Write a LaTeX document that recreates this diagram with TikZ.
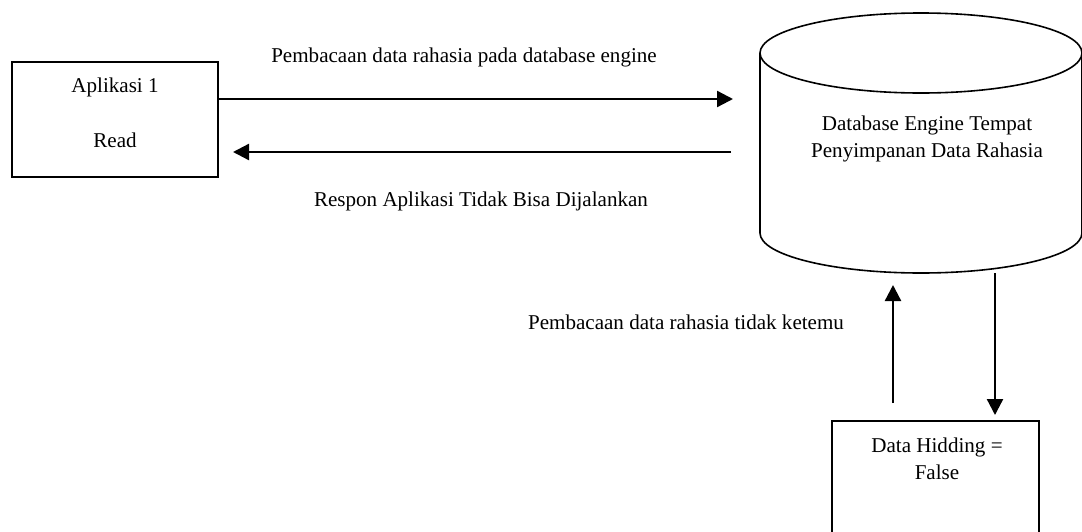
\documentclass[tikz,border=0pt]{standalone}
\usepackage{fontspec}
\setmainfont{Liberation Serif}
\usetikzlibrary{arrows.meta}
\tikzset{
  px/.style={x=0.75pt,y=-0.75pt},
  boxshape/.style={draw,line width=1.2pt,inner sep=0pt},
  lbl/.style={inner sep=0pt,font=\fontsize{15.8pt}{20.25pt}\selectfont,align=center},
  flow/.style={line width=1.75pt,-{Triangle[length=12pt,width=12pt]}},
  cyl/.style={line width=1.2pt}
}
\begin{document}
\begin{tikzpicture}[px]
\useasboundingbox (0,0) rectangle (1082,532);
% Aplikasi box
\node[boxshape,minimum width=154.5pt,minimum height=86.25pt] (app) at (115,119.5) {};
\node[lbl] (appt1) at (115,87) {Aplikasi 1};
\node[lbl] (appt2) at (115,140) {Read};
% Database cylinder
\draw[cyl] (921,53) ellipse [x radius=120.75pt, y radius=30pt];
\draw[cyl] (760,53) -- (760,233) arc[start angle=180,end angle=360,x radius=120.75pt,y radius=30pt] -- (1082,53);
\node[lbl] (db) at (927,138.5) {Database Engine Tempat\\Penyimpanan Data Rahasia};
% Data hidding box
\node[boxshape,minimum width=155.25pt,minimum height=104.25pt] (dh) at (935.5,490.5) {};
\node[lbl] (dht) at (937,458.5) {Data Hidding =\\False};
% connector ends
\coordinate (t1) at (733,99);
\coordinate (s2) at (731,152);
\coordinate (t2) at (233,152);
\coordinate (s3) at (893,403);
\coordinate (t3) at (893,285);
\coordinate (s4) at (995,273);
\coordinate (t4) at (995,415);
\draw[flow] (app.east |- t1) -- (t1);
\draw[flow] (s2) -- (t2);
\draw[flow] (s3) -- (t3);
\draw[flow] (s4) -- (t4);
% labels
\node[lbl] (l1) at (464,57) {Pembacaan data rahasia pada database engine};
\node[lbl] (l2) at (481,201) {Respon Aplikasi Tidak Bisa Dijalankan};
\node[lbl] (l3) at (686,322) {Pembacaan data rahasia tidak ketemu};
\end{tikzpicture}
\end{document}
